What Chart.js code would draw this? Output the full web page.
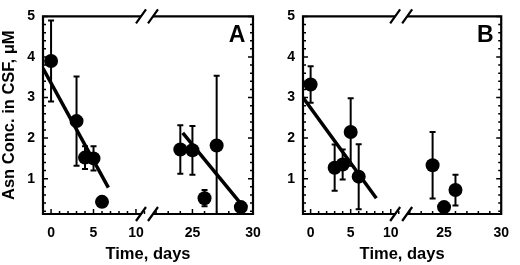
<!DOCTYPE html>
<html>
<head>
<meta charset="utf-8">
<script src="https://cdn.jsdelivr.net/npm/chart.js@4"></script>
<style>
  body { margin: 0; background: #fff; }
  #wrap { position: relative; width: 520px; height: 265px; overflow: hidden; }
  #cA { position: absolute; left: 0; top: 0; }
  #cB { position: absolute; left: 260px; top: 0; }
</style>
</head>
<body>
<div id="wrap">
  <canvas id="cA" width="275" height="265"></canvas>
  <canvas id="cB" width="260" height="265"></canvas>
</div>
<script>
// panel A: day, mean Asn, +/- error
const daysA = [0, 3, 4, 5, 6, 24, 25, 26, 27, 29];
const asnA  = [3.9, 2.42, 1.52, 1.5, 0.43, 1.72, 1.7, 0.52, 1.82, 0.3];
const errA  = [1.0, 1.1, 0.28, 0.3, 0.08, 0.6, 0.6, 0.2, 1.72, 0.12];
const fitA  = [[[-0.95, 3.72], [6.75, 0.78]], [[24.2, 2.13], [29.4, 0.24]]];

// panel B
const daysB = [0, 3, 4, 5, 6, 24, 25, 26];
const asnB  = [3.32, 1.27, 1.35, 2.15, 1.05, 1.33, 0.3, 0.72];
const errB  = [0.45, 0.57, 0.37, 0.83, 0.8, 0.82, 0.08, 0.38];
const fitB  = [[[-0.95, 3.0], [8.2, 0.52]]];

const yTicks = [1, 2, 3, 4, 5];
const xTicksLeft = [0, 5, 10];
const xTicksRight = [25, 30];

const tickFont = { family: '"Liberation Sans", Arial, sans-serif', size: 14, weight: 'bold' };
const titleFont = { family: '"Liberation Sans", Arial, sans-serif', size: 16.5, weight: 'bold' };

function panelDatasets(days, vals, errs, fits) {
  const sets = [];
  ['x', 'x2'].forEach(side => {
    const idx = days.map((d, i) => i).filter(i => (side === 'x') === (days[i] < 15));
    const bars = [];
    idx.forEach(i => {
      bars.push({ x: days[i], y: vals[i] - errs[i] }, { x: days[i], y: vals[i] + errs[i] }, { x: days[i], y: null });
    });
    const caps = idx.flatMap(i => [{ x: days[i], y: vals[i] - errs[i] }, { x: days[i], y: vals[i] + errs[i] }]);
    const pts = idx.map(i => ({ x: days[i], y: vals[i] }));
    sets.push({ type: 'line', xAxisID: side, data: bars, borderColor: '#000', borderWidth: 2, pointRadius: 0, spanGaps: false });
    sets.push({ type: 'scatter', xAxisID: side, data: caps, pointStyle: 'line', pointRadius: 3, borderColor: '#000', borderWidth: 2 });
    sets.push({ type: 'scatter', xAxisID: side, data: pts, pointRadius: 7, backgroundColor: '#000', borderWidth: 0 });
  });
  fits.forEach(f => {
    sets.push({ type: 'line', xAxisID: f[0][0] < 15 ? 'x' : 'x2', data: f.map(p => ({ x: p[0], y: p[1] })),
      borderColor: '#000', borderWidth: 3.5, pointRadius: 0 });
  });
  return sets;
}

function xAxis(min, max, weight, ticks) {
  return {
    type: 'linear', position: 'bottom', stack: 'days', stackWeight: weight, min: min, max: max,
    afterFit: s => { s.height = 30; },
    afterBuildTicks: s => { s.ticks = ticks.map(v => ({ value: v })); },
    grid: { display: false, drawTicks: false }, border: { display: false },
    ticks: { padding: 11, color: '#000', font: tickFont, maxRotation: 0 }
  };
}

function makeScales(showTitle) {
  return {
    y: {
      min: 0.13, max: 5,
      afterFit: s => { s.width = 43; },
      afterBuildTicks: s => { s.ticks = yTicks.map(v => ({ value: v })); },
      grid: { display: false, drawTicks: false }, border: { display: false },
      ticks: { padding: 8, color: '#000', font: tickFont },
      title: { display: showTitle, text: 'Asn Conc. in CSF, μM', color: '#000', font: titleFont, padding: { top: 0, bottom: 0 } }
    },
    x: xAxis(-0.95, 11.3, 104, xTicksLeft),
    x2: xAxis(21.25, 30, 106, xTicksRight)
  };
}

// box with axis break, inward ticks, panel letter and x title
const framePlugin = {
  id: 'frame',
  afterDraw(chart, args, opts) {
    const { ctx, chartArea: a, scales } = chart;
    const brk = scales.x.right;
    ctx.save();
    ctx.strokeStyle = '#000';
    ctx.lineWidth = 2.2;
    ctx.lineCap = 'butt';
    ctx.beginPath();
    ctx.moveTo(brk - 6, a.top); ctx.lineTo(a.left, a.top); ctx.lineTo(a.left, a.bottom); ctx.lineTo(brk - 6, a.bottom);
    ctx.moveTo(brk + 6, a.top); ctx.lineTo(a.right, a.top); ctx.lineTo(a.right, a.bottom); ctx.lineTo(brk + 6, a.bottom);
    ctx.stroke();

    ctx.beginPath();
    [a.top, a.bottom].forEach(yy => {
      [brk - 6, brk + 6].forEach(cx => {
        ctx.moveTo(cx - 5, yy + 7); ctx.lineTo(cx + 5, yy - 7);
      });
    });
    ctx.stroke();

    ctx.lineWidth = 1.5;
    ctx.beginPath();
    [[scales.x, 0, 11], [scales.x2, 22, 30]].forEach(([sc, lo, hi]) => {
      for (let d = lo; d <= hi; d++) {
        const px = sc.getPixelForValue(d);
        const len = d % 5 === 0 ? 5 : 3;
        ctx.moveTo(px, a.bottom); ctx.lineTo(px, a.bottom - len);
      }
    });
    for (let k = 1; k <= 25; k++) {
      const v = k / 5;
      const py = scales.y.getPixelForValue(v);
      const len = k % 5 === 0 ? 5 : 3;
      ctx.moveTo(a.left, py); ctx.lineTo(a.left + len, py);
      ctx.moveTo(a.right, py); ctx.lineTo(a.right - len, py);
    }
    ctx.stroke();

    ctx.fillStyle = '#000';
    ctx.textAlign = 'center';
    ctx.textBaseline = 'alphabetic';
    ctx.font = 'bold 23px "Liberation Sans", Arial, sans-serif';
    ctx.fillText(opts.letter, a.right - 16, a.top + 26);
    ctx.font = 'bold 16.5px "Liberation Sans", Arial, sans-serif';
    ctx.fillText('Time, days', (a.left + a.right) / 2, 259);
    ctx.restore();
  }
};

function makeChart(id, days, vals, errs, fits, letter, showTitle, padRight) {
  return new Chart(document.getElementById(id), {
    type: 'scatter',
    data: { datasets: panelDatasets(days, vals, errs, fits) },
    options: {
      responsive: false,
      animation: false,
      devicePixelRatio: 1,
      events: [],
      layout: { padding: { left: 0, right: padRight, top: 10, bottom: 21 } },
      scales: makeScales(showTitle),
      plugins: { legend: { display: false }, tooltip: { enabled: false }, frame: { letter: letter } }
    },
    plugins: [framePlugin]
  });
}

makeChart('cA', daysA, asnA, errA, fitA, 'A', true, 22);
makeChart('cB', daysB, asnB, errB, fitB, 'B', false, 8);
</script>
</body>
</html>
